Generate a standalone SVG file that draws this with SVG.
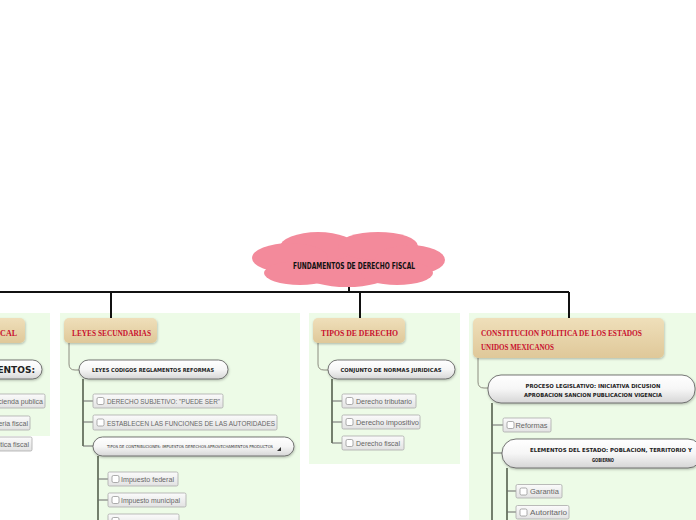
<svg xmlns="http://www.w3.org/2000/svg" width="696" height="520" viewBox="0 0 696 520">
<defs>
<linearGradient id="gHead" x1="0" y1="0" x2="0" y2="1"><stop offset="0" stop-color="#efdfba"/><stop offset="1" stop-color="#dfc899"/></linearGradient>
<linearGradient id="gPill" x1="0" y1="0" x2="0" y2="1"><stop offset="0" stop-color="#ffffff"/><stop offset="0.5" stop-color="#f6f6f6"/><stop offset="1" stop-color="#d6d6d6"/></linearGradient>
<linearGradient id="gLeaf" x1="0" y1="0" x2="0" y2="1"><stop offset="0" stop-color="#fbfbfb"/><stop offset="1" stop-color="#e2e2e2"/></linearGradient>
<filter id="sh" x="-10%" y="-20%" width="120%" height="150%"><feDropShadow dx="0.5" dy="1.2" stdDeviation="0.8" flood-color="#000" flood-opacity="0.25"/></filter>
</defs>
<style>
.panel{fill:#edfbe7}
.head{fill:url(#gHead);filter:url(#sh)}
.htxt{font-family:"Liberation Serif",serif;font-weight:bold;font-size:8px;fill:#c8102e}
.pill{fill:url(#gPill);stroke:#555;stroke-width:0.8;filter:url(#sh)}
.ptxt{font-family:"DejaVu Sans",sans-serif;font-weight:bold;font-size:5.5px;fill:#222}
.leaf{fill:url(#gLeaf);stroke:#a9a9a9;stroke-width:0.8}
.cb{fill:#fff;stroke:#8a8a8a;stroke-width:0.7}
.ltxt{font-family:"Liberation Sans",sans-serif;font-size:7px;fill:#666}
.top{fill:none;stroke:#111;stroke-width:2}
.hc{fill:none;stroke:#8c8c80;stroke-width:1}
.tr{fill:none;stroke:#3f4a38;stroke-width:1.4}
.br{fill:none;stroke:#6b6b6b;stroke-width:1}
</style>

<g id="panels">
<rect class="panel" x="-10" y="313" width="60" height="123"/>
<rect class="panel" x="60" y="313" width="240" height="215"/>
<rect class="panel" x="309" y="313" width="151" height="151"/>
<rect class="panel" x="469" y="313" width="235" height="215"/>
</g>

<g id="connectors">
<path class="top" d="M349 286 V292 M-5 292 H569 M111 292 V320 M360 292 V320 M569 292 V320"/>
<path class="hc" d="M69 343 V364 Q69 370 75 370 H80"/>
<path class="hc" d="M318 343 V364 Q318 370 324 370 H329"/>
<path class="hc" d="M478 358 V382 Q478 388 484 388 H489"/>
<path class="tr" d="M83 379 V446"/>
<path class="br" d="M83 401 H93 M83 422 H93 M83 446 H94"/>
<path class="tr" d="M98 456 V522"/>
<path class="br" d="M98 479 H108 M98 500 H108 M98 521 H108"/>
<path class="tr" d="M332 379 V443"/>
<path class="br" d="M332 401 H342 M332 422 H342 M332 443 H342"/>
<path class="tr" d="M492 403 V522"/>
<path class="br" d="M492 425 H503 M492 453 H503"/>
<path class="tr" d="M507 468 V522"/>
<path class="br" d="M507 491 H517 M507 512 H517"/>
</g>

<g id="root">
<g fill="#f38a9b">
<ellipse cx="349" cy="262" rx="82" ry="20"/>
<ellipse cx="318" cy="247" rx="38" ry="15"/>
<ellipse cx="378" cy="246" rx="40" ry="14"/>
<ellipse cx="290" cy="258" rx="38" ry="15"/>
<ellipse cx="410" cy="260" rx="35" ry="15"/>
<ellipse cx="300" cy="273" rx="36" ry="12"/>
<ellipse cx="347" cy="276" rx="40" ry="11"/>
<ellipse cx="397" cy="273" rx="36" ry="12"/>
</g>
<text x="354" y="268.5" text-anchor="middle" textLength="122" lengthAdjust="spacingAndGlyphs" style="font-family:'DejaVu Sans Condensed','DejaVu Sans',sans-serif;font-weight:bold;font-size:9.5px;fill:#111">FUNDAMENTOS DE DERECHO FISCAL</text>
</g>

<g id="left-branch">
<rect class="head" x="-70" y="318" width="95" height="25" rx="5"/>
<text class="htxt" x="17" y="336" text-anchor="end">DERECHO FISCAL</text>
<rect class="pill" x="-80" y="360" width="122" height="19" rx="9.5"/>
<text x="35" y="373" text-anchor="end" style="font-family:'DejaVu Sans',sans-serif;font-weight:bold;font-size:9px;fill:#222">ELEMENTOS:</text>
<rect class="leaf" x="-40" y="394" width="85" height="14" rx="1.5"/>
<text class="ltxt" x="43" y="404" text-anchor="end">Hacienda publica</text>
<rect class="leaf" x="-40" y="416" width="70" height="14" rx="1.5"/>
<text class="ltxt" x="28" y="426" text-anchor="end">Materia fiscal</text>
<rect class="leaf" x="-40" y="437" width="72" height="14" rx="1.5"/>
<text class="ltxt" x="29" y="447" text-anchor="end">Politica fiscal</text>
</g>

<g id="leyes-secundarias">
<rect class="head" x="64" y="318" width="93" height="25" rx="5"/>
<text class="htxt" x="72" y="336" textLength="79" lengthAdjust="spacingAndGlyphs">LEYES SECUNDARIAS</text>
</g>
<g id="leyes-codigos">
<rect class="pill" x="79" y="360" width="149" height="19" rx="9.5"/>
<text class="ptxt" x="153" y="372" text-anchor="middle" textLength="122" lengthAdjust="spacingAndGlyphs">LEYES CODIGOS REGLAMENTOS REFORMAS</text>
</g>
<g id="derecho-subjetivo">
<rect class="leaf" x="93" y="394" width="130" height="14" rx="1.5"/>
<rect class="cb" x="97" y="397.5" width="7" height="7" rx="1.5"/>
<text class="ltxt" x="107" y="404" textLength="113" lengthAdjust="spacingAndGlyphs">DERECHO SUBJETIVO: "PUEDE SER"</text>
</g>
<g id="establecen">
<rect class="leaf" x="93" y="415" width="184" height="15" rx="1.5"/>
<rect class="cb" x="97" y="419" width="7" height="7" rx="1.5"/>
<text class="ltxt" x="107" y="425.5" textLength="168" lengthAdjust="spacingAndGlyphs">ESTABLECEN LAS FUNCIONES DE LAS AUTORIDADES</text>
</g>
<g id="tipos-contribuciones">
<rect class="pill" x="93" y="437" width="201" height="19" rx="9.5"/>
<text x="107" y="448" textLength="166" lengthAdjust="spacingAndGlyphs" style="font-family:'DejaVu Sans',sans-serif;font-size:4px;fill:#333">TIPOS DE CONTRIBUCIONES: IMPUESTOS DERECHOS APROVECHAMIENTOS PRODUCTOS</text>
<polygon points="277,451 281,451 281,447" fill="#333"/>
</g>
<g id="impuesto-federal">
<rect class="leaf" x="108" y="472" width="70" height="14" rx="1.5"/>
<rect class="cb" x="112" y="475.5" width="7" height="7" rx="1.5"/>
<text class="ltxt" x="121" y="482" textLength="53" lengthAdjust="spacingAndGlyphs">Impuesto federal</text>
</g>
<g id="impuesto-municipal">
<rect class="leaf" x="108" y="493" width="78" height="14" rx="1.5"/>
<rect class="cb" x="112" y="496.5" width="7" height="7" rx="1.5"/>
<text class="ltxt" x="121" y="503" textLength="59" lengthAdjust="spacingAndGlyphs">Impuesto municipal</text>
</g>
<g id="impuesto-3">
<rect class="leaf" x="108" y="514" width="71" height="14" rx="1.5"/>
<rect class="cb" x="112" y="517.5" width="7" height="7" rx="1.5"/>
</g>

<g id="tipos-de-derecho">
<rect class="head" x="313" y="318" width="92" height="25" rx="5"/>
<text class="htxt" x="321" y="336" textLength="77" lengthAdjust="spacingAndGlyphs">TIPOS DE DERECHO</text>
</g>
<g id="conjunto-normas">
<rect class="pill" x="328" y="360" width="127" height="19" rx="9.5"/>
<text class="ptxt" x="391" y="372" text-anchor="middle" textLength="101" lengthAdjust="spacingAndGlyphs">CONJUNTO DE NORMAS JURIDICAS</text>
</g>
<g id="derecho-tributario">
<rect class="leaf" x="342" y="394" width="74" height="14" rx="1.5"/>
<rect class="cb" x="346" y="397.5" width="7" height="7" rx="1.5"/>
<text class="ltxt" x="356" y="404" textLength="56" lengthAdjust="spacingAndGlyphs">Derecho tributario</text>
</g>
<g id="derecho-impositivo">
<rect class="leaf" x="342" y="415" width="78" height="14" rx="1.5"/>
<rect class="cb" x="346" y="418.5" width="7" height="7" rx="1.5"/>
<text class="ltxt" x="356" y="425" textLength="63" lengthAdjust="spacingAndGlyphs">Derecho impositivo</text>
</g>
<g id="derecho-fiscal">
<rect class="leaf" x="342" y="436" width="62" height="14" rx="1.5"/>
<rect class="cb" x="346" y="439.5" width="7" height="7" rx="1.5"/>
<text class="ltxt" x="356" y="446" textLength="44" lengthAdjust="spacingAndGlyphs">Derecho fiscal</text>
</g>

<g id="constitucion">
<rect class="head" x="473" y="318" width="191" height="40" rx="5"/>
<text class="htxt" x="481" y="336" textLength="161" lengthAdjust="spacingAndGlyphs">CONSTITUCION POLITICA DE LOS ESTADOS</text>
<text class="htxt" x="481" y="350" textLength="73" lengthAdjust="spacingAndGlyphs">UNIDOS MEXICANOS</text>
</g>
<g id="proceso-legislativo">
<rect class="pill" x="488" y="375" width="207" height="28" rx="13"/>
<text class="ptxt" x="593" y="388" text-anchor="middle" textLength="135" lengthAdjust="spacingAndGlyphs">PROCESO LEGISLATIVO: INICIATIVA DICUSION</text>
<text class="ptxt" x="593" y="397" text-anchor="middle" textLength="138" lengthAdjust="spacingAndGlyphs">APROBACION SANCION PUBLICACION VIGENCIA</text>
</g>
<g id="reformas">
<rect class="leaf" x="503" y="418" width="48" height="14" rx="1.5"/>
<rect class="cb" x="507" y="421.5" width="7" height="7" rx="1.5"/>
<text class="ltxt" x="515.5" y="428" textLength="32" lengthAdjust="spacingAndGlyphs">Reformas</text>
</g>
<g id="elementos-estado">
<rect class="pill" x="502" y="439" width="200" height="29" rx="14"/>
<text class="ptxt" x="611" y="452" text-anchor="middle" textLength="162" lengthAdjust="spacingAndGlyphs">ELEMENTOS DEL ESTADO: POBLACION, TERRITORIO Y</text>
<text class="ptxt" x="603" y="461.5" text-anchor="middle" textLength="22" lengthAdjust="spacingAndGlyphs">GOBIERNO</text>
</g>
<g id="garantia">
<rect class="leaf" x="516" y="484.5" width="46" height="13.5" rx="1.5"/>
<rect class="cb" x="520" y="488" width="7" height="7" rx="1.5"/>
<text class="ltxt" x="530" y="494" textLength="29" lengthAdjust="spacingAndGlyphs">Garantía</text>
</g>
<g id="autoritario">
<rect class="leaf" x="516" y="505.5" width="53" height="13.5" rx="1.5"/>
<rect class="cb" x="520" y="509" width="7" height="7" rx="1.5"/>
<text class="ltxt" x="530" y="515" textLength="37" lengthAdjust="spacingAndGlyphs">Autoritario</text>
</g>
</svg>
